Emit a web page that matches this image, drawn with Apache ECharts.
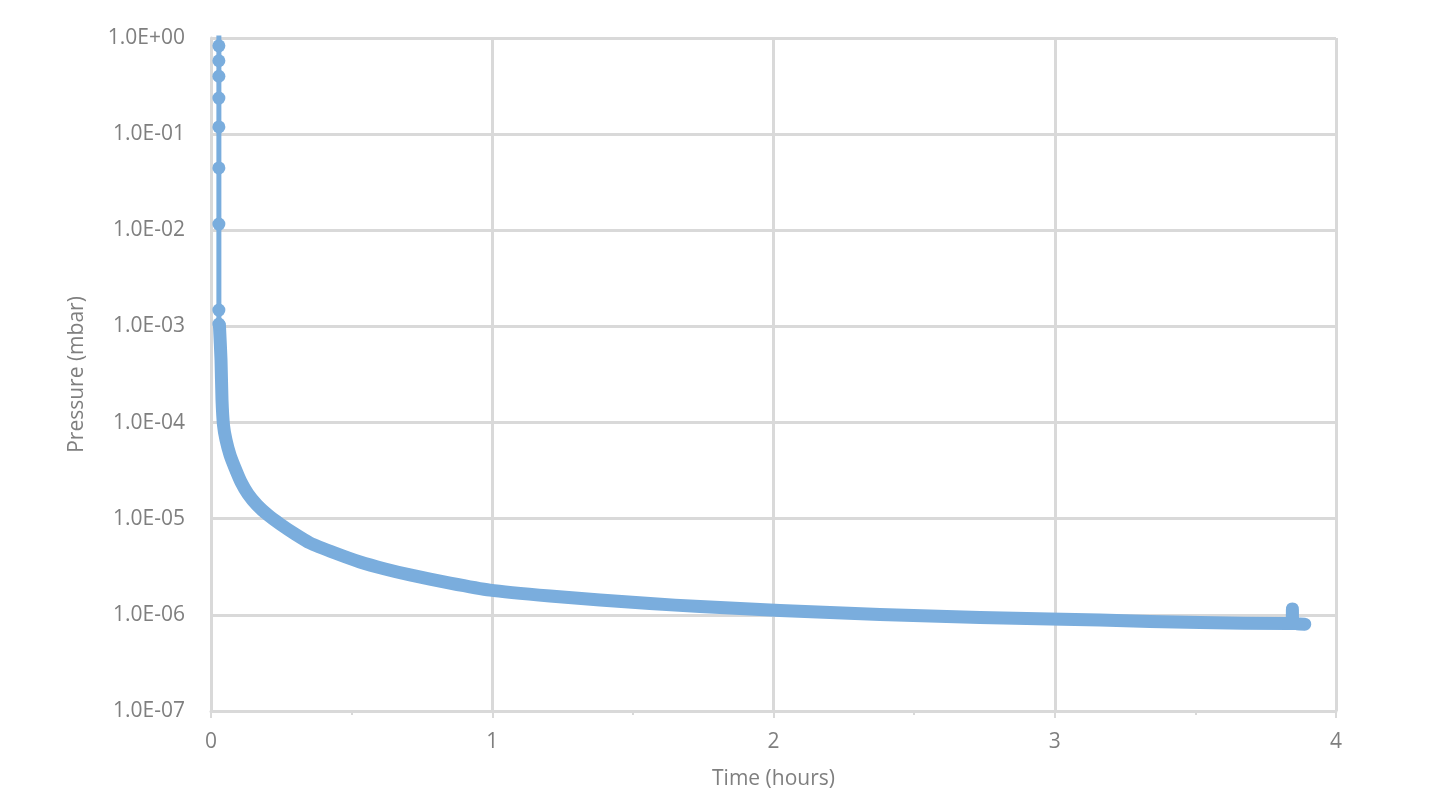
<!DOCTYPE html>
<html>
<head>
<meta charset="utf-8">
<script src="https://cdn.jsdelivr.net/npm/echarts@6/dist/echarts.min.js"></script>
<style>html,body{margin:0;padding:0;background:#fff;}#chart{width:1438px;height:809px;}</style>
</head>
<body>
<div id="chart"></div>
<script>
// Initial pump-down spike (hours, mbar)
const spikeTime = [0.028, 0.028, 0.028, 0.028, 0.028, 0.028, 0.028, 0.028, 0.028, 0.028];
const spikePressure = [1.3, 0.83, 0.58, 0.40, 0.237, 0.119, 0.0445, 0.0116, 0.00148, 0.00106];
// Dense decay band (hours, mbar)
const decayTime = [0.0300, 0.0356, 0.0391, 0.0444, 0.0533, 0.0676, 0.0853, 0.1067, 0.1316, 0.1636, 0.2027, 0.2453, 0.2987, 0.3520, 0.4409, 0.5298, 0.6187, 0.7076, 0.8498, 0.9920, 1.2053, 1.3831, 1.5609, 1.7387, 2.0231, 2.3787, 2.7342, 2.9831, 3.1609, 3.3387, 3.5164, 3.8293, 3.8440, 3.8450, 3.8460, 3.8610, 3.8890];
const decayPressure = [1.03e-3, 4.48e-4, 1.72e-4, 9.43e-5, 6.59e-5, 4.60e-5, 3.37e-5, 2.41e-5, 1.81e-5, 1.39e-5, 1.09e-5, 8.81e-6, 6.93e-6, 5.59e-6, 4.40e-6, 3.55e-6, 3.00e-6, 2.60e-6, 2.14e-6, 1.81e-6, 1.57e-6, 1.43e-6, 1.31e-6, 1.22e-6, 1.11e-6, 1.01e-6, 9.37e-7, 9.05e-7, 8.83e-7, 8.53e-7, 8.32e-7, 8.12e-7, 8.2e-7, 1.15e-6, 8.2e-7, 8.1e-7, 8.0e-7];
// Axis tick labels
const xTickLabels = ['0', '1', '2', '3', '4'];
const yTickLabels = {'0': '1.0E+00', '-1': '1.0E-01', '-2': '1.0E-02', '-3': '1.0E-03', '-4': '1.0E-04', '-5': '1.0E-05', '-6': '1.0E-06', '-7': '1.0E-07'};

const lineColor = '#7aaddd';
const gridColor = '#d9d9d9';
const textColor = '#7f7f7f';

const chart = echarts.init(document.getElementById('chart'));
chart.setOption({
  animation: false,
  backgroundColor: '#ffffff',
  grid: { left: 211, right: 102, top: 38, bottom: 98, containLabel: false },
  xAxis: {
    type: 'value', min: 0, max: 4, interval: 1,
    name: 'Time (hours)', nameLocation: 'middle', nameGap: 58,
    nameTextStyle: { fontFamily: 'Open Sans', fontSize: 21, color: textColor },
    axisLine: { show: true, lineStyle: { color: gridColor, width: 3 } },
    axisTick: { show: true, length: 7, lineStyle: { color: gridColor, width: 2 } },
    minorTick: { show: true, splitNumber: 2, length: 4, lineStyle: { color: gridColor, width: 2 } },
    splitLine: { show: true, lineStyle: { color: gridColor, width: 3 } },
    axisLabel: { margin: 21, fontFamily: 'Open Sans', fontSize: 21, color: textColor,
      formatter: v => xTickLabels[Math.round(v)] }
  },
  yAxis: {
    type: 'log', logBase: 10, min: 1e-7, max: 1,
    name: 'Pressure (mbar)', nameLocation: 'middle', nameGap: 123,
    nameTextStyle: { fontFamily: 'Open Sans', fontSize: 21, color: textColor },
    axisLine: { show: true, lineStyle: { color: gridColor, width: 3 } },
    axisTick: { show: false },
    splitLine: { show: true, lineStyle: { color: gridColor, width: 3 } },
    axisLabel: { margin: 26, fontFamily: 'Open Sans', fontSize: 21, color: textColor,
      formatter: v => yTickLabels[String(Math.round(Math.log10(v)))] }
  },
  series: [
    {
      type: 'line', clip: true,
      data: spikeTime.map((t, i) => [t, spikePressure[i]]),
      symbol: 'circle', symbolSize: 13, showSymbol: true,
      lineStyle: { color: lineColor, width: 5 },
      itemStyle: { color: lineColor, borderWidth: 0 },
      z: 3
    },
    {
      type: 'line', clip: true, smooth: 0.2,
      data: decayTime.map((t, i) => [t, decayPressure[i]]),
      showSymbol: false, symbol: 'none',
      lineStyle: { color: lineColor, width: 13, cap: 'round', join: 'round' },
      z: 3
    }
  ]
});
</script>
</body>
</html>
